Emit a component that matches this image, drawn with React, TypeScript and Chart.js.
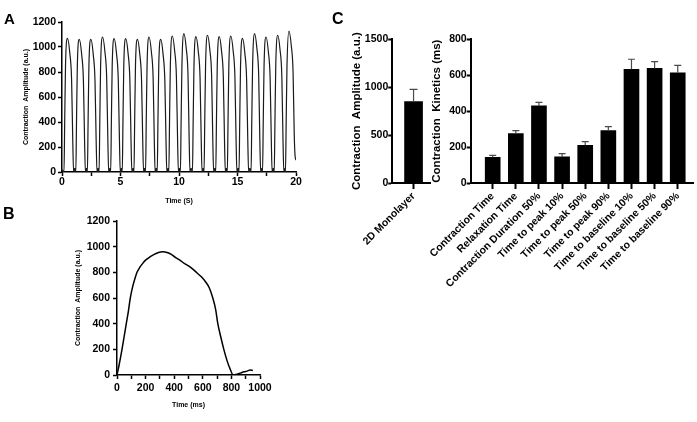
import React, { useEffect, useRef } from 'react';
import { Chart, registerables } from 'chart.js';

Chart.register(...registerables);

const FAMILY = '"Liberation Sans", Arial, sans-serif';

// ---------- Panel A: 20 s contraction trace (time s, amplitude a.u.) ----------
const traceA: [number, number][] = [
  [0.0, 20],
  [0.17, 0], [0.23, 400], [0.30, 850], [0.47, 1069], [0.67, 949], [0.82, 739], [0.92, 250], [0.99, 0], [1.09, 30],
  [1.18, 0], [1.24, 400], [1.31, 850], [1.48, 1061], [1.68, 941], [1.83, 731], [1.93, 250], [2.00, 0], [2.10, 30],
  [2.17, 0], [2.23, 400], [2.30, 850], [2.47, 1061], [2.67, 941], [2.82, 731], [2.92, 250], [2.99, 0], [3.09, 30],
  [3.17, 0], [3.23, 400], [3.30, 850], [3.47, 1080], [3.67, 960], [3.82, 750], [3.92, 250], [3.99, 0], [4.09, 30],
  [4.16, 0], [4.22, 400], [4.29, 850], [4.46, 1067], [4.66, 947], [4.81, 737], [4.91, 250], [4.98, 0], [5.08, 30],
  [5.15, 0], [5.21, 400], [5.28, 850], [5.45, 1067], [5.65, 947], [5.80, 737], [5.90, 250], [5.97, 0], [6.07, 30],
  [6.15, 0], [6.21, 400], [6.28, 850], [6.45, 1061], [6.65, 941], [6.80, 731], [6.90, 250], [6.97, 0], [7.07, 30],
  [7.14, 0], [7.20, 400], [7.27, 850], [7.44, 1080], [7.64, 960], [7.79, 750], [7.89, 250], [7.96, 0], [8.06, 30],
  [8.14, 0], [8.20, 400], [8.27, 850], [8.44, 1061], [8.64, 941], [8.79, 731], [8.89, 250], [8.96, 0], [9.06, 30],
  [9.13, 0], [9.19, 400], [9.26, 850], [9.43, 1088], [9.63, 968], [9.78, 758], [9.88, 250], [9.95, 0], [10.05, 30],
  [10.12, 0], [10.18, 400], [10.25, 850], [10.42, 1107], [10.62, 987], [10.77, 777], [10.87, 250], [10.94, 0], [11.04, 30],
  [11.15, 0], [11.21, 400], [11.28, 850], [11.45, 1083], [11.65, 963], [11.80, 753], [11.90, 250], [11.97, 0], [12.07, 30],
  [12.14, 0], [12.20, 400], [12.27, 850], [12.44, 1094], [12.64, 974], [12.79, 764], [12.89, 250], [12.96, 0], [13.06, 30],
  [13.14, 0], [13.20, 400], [13.27, 850], [13.44, 1083], [13.64, 963], [13.79, 753], [13.89, 250], [13.96, 0], [14.06, 30],
  [14.13, 0], [14.19, 400], [14.26, 850], [14.43, 1088], [14.63, 968], [14.78, 758], [14.88, 250], [14.95, 0], [15.05, 30],
  [15.13, 0], [15.19, 400], [15.26, 850], [15.43, 1069], [15.63, 949], [15.78, 739], [15.88, 250], [15.95, 0], [16.05, 30],
  [16.16, 0], [16.22, 400], [16.29, 850], [16.46, 1107], [16.66, 987], [16.81, 777], [16.91, 250], [16.98, 0], [17.08, 30],
  [17.14, 0], [17.20, 400], [17.27, 850], [17.44, 1080], [17.64, 960], [17.79, 750], [17.89, 250], [17.96, 0], [18.06, 30],
  [18.14, 0], [18.20, 400], [18.27, 850], [18.44, 1094], [18.64, 974], [18.79, 764], [18.89, 250], [18.96, 0], [19.06, 30],
  [19.10, 0], [19.16, 400], [19.23, 850], [19.40, 1128], [19.60, 1008], [19.75, 798], [19.85, 300], [19.92, 130], [20.0, 95],
];

// ---------- Panel B: single beat (time ms, amplitude a.u.) ----------
const traceBTime = [0, 15, 35, 50, 65, 80, 93, 110, 125, 140, 160, 180, 200, 230, 260, 290, 320, 350, 380, 410, 440, 470, 500, 530, 560, 590, 620, 645, 670, 690, 705, 725, 747, 770, 790, 812, 830, 850, 870, 890, 910, 930, 950];
const traceBAmp = [0, 80, 200, 300, 400, 500, 600, 690, 750, 800, 840, 870, 895, 920, 940, 955, 960, 955, 940, 915, 895, 870, 850, 825, 795, 765, 725, 680, 600, 510, 400, 300, 200, 110, 50, 0, 5, 10, 18, 25, 30, 38, 35];

// ---------- Panel C ----------
const amplitudeCategories = ['2D Monolayer'];
const amplitudeMean = [850];
const amplitudeSD = [128];

const kineticsCategories = [
  'Contraction Time',
  'Relaxation Time',
  'Contraction Duration 50%',
  'Time to peak 10%',
  'Time to peak 50%',
  'Time to peak 90%',
  'Time to baseline 10%',
  'Time to baseline 50%',
  'Time to baseline 90%',
];
const kineticsMean = [143, 275, 429, 145, 210, 292, 633, 638, 614];
const kineticsSD = [11, 17, 20, 19, 20, 22, 56, 38, 41];

const f = (size: number) => ({ family: FAMILY, size, weight: 'bold' as const });

const fixW = (w: number) => (s: any) => { s.width = w; };
const fixH = (h: number) => (s: any) => { s.height = h; };
const plain = (v: number) => String(v);

function axisBase(lineW: number, tickLen: number) {
  return {
    border: { display: true, color: '#000', width: lineW },
    grid: {
      display: true,
      drawOnChartArea: false,
      drawTicks: true,
      tickLength: tickLen,
      tickColor: '#000',
      tickWidth: lineW,
      color: '#000',
      offset: false,
    },
  };
}

const baseOptions = {
  animation: false as const,
  responsive: false,
  devicePixelRatio: 1,
  plugins: { legend: { display: false }, tooltip: { enabled: false } },
};

function errorBars(means: number[], sds: number[], capHalf: number) {
  return {
    id: 'errorBars',
    afterDatasetsDraw(chart: any) {
      const { ctx } = chart;
      const x = chart.scales.x;
      const y = chart.scales.y;
      ctx.save();
      ctx.strokeStyle = '#4a4a4a';
      ctx.lineWidth = 1.2;
      means.forEach((m, i) => {
        const px = x.getPixelForValue(i);
        const y0 = y.getPixelForValue(m);
        const y1 = y.getPixelForValue(m + sds[i]);
        ctx.beginPath();
        ctx.moveTo(px, y0);
        ctx.lineTo(px, y1);
        ctx.moveTo(px - capHalf, y1);
        ctx.lineTo(px + capHalf, y1);
        ctx.stroke();
      });
      ctx.restore();
    },
  };
}

function configA(): any {
  return {
    type: 'line',
    data: {
      datasets: [{
        data: traceA.map(([x, y]) => ({ x, y })),
        borderColor: '#1a1a1a',
        borderWidth: 1.2,
        pointRadius: 0,
        cubicInterpolationMode: 'monotone',
        fill: false,
      }],
    },
    options: {
      ...baseOptions,
      layout: { padding: { left: 0, top: 22, right: 14, bottom: 2 } },
      scales: {
        x: {
          type: 'linear', min: 0, max: 20,
          afterFit: fixH(36),
          ...axisBase(1.5, 4),
          ticks: {
            stepSize: 2.5, autoSkip: false, maxRotation: 0, minRotation: 0, padding: 0, color: '#000', font: f(10.5),
            callback: (v: number) => (v % 5 === 0 ? String(v) : ''),
          },
          title: { display: true, text: 'Time (S)', color: '#000', font: f(7), padding: { top: 0, bottom: 2.3 } },
        },
        y: {
          min: 0, max: 1200,
          afterFit: fixW(62),
          ...axisBase(1.5, 4),
          ticks: { stepSize: 200, padding: 2, color: '#000', font: f(10.5), callback: plain },
          title: { display: true, text: 'Contraction  Amplitude (a.u.)', color: '#000', font: f(7), padding: { top: 21.8, bottom: 0 } },
        },
      },
    },
  };
}

function configB(): any {
  return {
    type: 'line',
    data: {
      datasets: [{
        data: traceBTime.map((x, i) => ({ x, y: traceBAmp[i] })),
        borderColor: '#000',
        borderWidth: 1.5,
        pointRadius: 0,
        cubicInterpolationMode: 'monotone',
        fill: false,
      }],
    },
    options: {
      ...baseOptions,
      layout: { padding: { left: 0, top: 21, right: 20, bottom: 0 } },
      scales: {
        x: {
          type: 'linear', min: 0, max: 1000,
          afterFit: fixH(47),
          ...axisBase(1.5, 4),
          ticks: {
            stepSize: 100, autoSkip: false, maxRotation: 0, minRotation: 0, padding: 3, color: '#000', font: f(10.5),
            callback: (v: number) => (v % 200 === 0 ? String(v) : ''),
          },
          title: { display: true, text: 'Time (ms)', color: '#000', font: f(7), padding: { top: 0, bottom: 12.8 } },
        },
        y: {
          min: 0, max: 1200,
          afterFit: fixW(117),
          ...axisBase(1.5, 4),
          ticks: { stepSize: 200, padding: 3, color: '#000', font: f(10.5), callback: plain },
          title: { display: true, text: 'Contraction  Amplitude (a.u.)', color: '#000', font: f(7), padding: { top: 73.8, bottom: 0 } },
        },
      },
    },
  };
}

function barConfig(cats: string[], means: number[], yMax: number, yStep: number, xMin: number, xMax: number,
  yWidth: number, rightPad: number, title: string, titlePad: number, thickness: number): any {
  return {
    type: 'bar',
    data: {
      datasets: [{
        data: means.map((y, i) => ({ x: i, y })),
        backgroundColor: '#000',
        borderWidth: 0,
        barThickness: thickness,
      }],
    },
    options: {
      ...baseOptions,
      layout: { padding: { left: 0, top: 39.3, right: rightPad, bottom: 0 } },
      scales: {
        x: {
          type: 'linear', min: xMin, max: xMax, offset: false,
          afterFit: fixH(117),
          ...axisBase(2, 6),
          ticks: {
            stepSize: 1, includeBounds: false, autoSkip: false, minRotation: 45, maxRotation: 45, padding: 1,
            color: '#000', font: f(10.5),
            callback: (v: number) => (Number.isInteger(v) && cats[v] !== undefined ? cats[v] : ''),
          },
        },
        y: {
          min: 0, max: yMax,
          afterFit: fixW(yWidth),
          ...axisBase(2, 4),
          ticks: { stepSize: yStep, padding: 0, color: '#000', font: f(10.5), callback: plain },
          title: { display: true, text: title, color: '#000', font: f(11.5), padding: { top: titlePad, bottom: 0 } },
        },
      },
    },
  };
}

function ChartBox(props: { make: () => any; plugins?: any[]; left: number; top: number; width: number; height: number }) {
  const ref = useRef<HTMLCanvasElement | null>(null);
  useEffect(() => {
    const cfg = props.make();
    if (props.plugins) cfg.plugins = props.plugins;
    const chart = new Chart(ref.current as HTMLCanvasElement, cfg);
    return () => chart.destroy();
  }, []);
  return (
    <canvas
      ref={ref}
      width={props.width}
      height={props.height}
      style={{ position: 'absolute', left: props.left, top: props.top, width: props.width, height: props.height }}
    />
  );
}

const letterStyle = (left: number, top: number, size: number): React.CSSProperties => ({
  position: 'absolute', left, top, fontFamily: FAMILY, fontWeight: 'bold', fontSize: size, lineHeight: 1, color: '#000',
});

export default function App() {
  return (
    <div style={{ position: 'absolute', left: 0, top: 0, width: 697, height: 422, background: '#fff', overflow: 'hidden' }}>
      <ChartBox make={configA} left={0} top={0} width={310} height={210} />
      <ChartBox make={configB} left={0} top={200} width={280} height={222} />
      <ChartBox
        make={() => barConfig(amplitudeCategories, amplitudeMean, 1500, 500, -0.57, 0.44, 60, 10, 'Contraction  Amplitude (a.u.)', 18.1, 18)}
        plugins={[errorBars(amplitudeMean, amplitudeSD, 4)]}
        left={330} top={0} width={110} height={300}
      />
      <ChartBox
        make={() => barConfig(kineticsCategories, kineticsMean, 800, 200, -0.951, 8.66, 110.7, 4, 'Contraction  Kinetics (ms)', 70, 15)}
        plugins={[errorBars(kineticsMean, kineticsSD, 3.5)]}
        left={360} top={0} width={337} height={300}
      />
      <div style={letterStyle(4, 11, 15)}>A</div>
      <div style={letterStyle(3, 206, 16)}>B</div>
      <div style={letterStyle(332, 11, 16)}>C</div>
    </div>
  );
}
